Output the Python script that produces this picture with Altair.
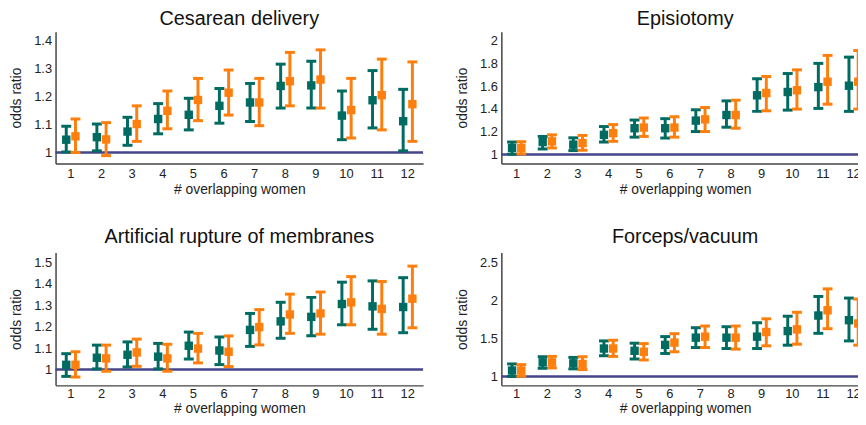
import altair as alt
import pandas as pd

overlap = list(range(1, 13))
series_names = ["Model 1", "Model 2"]
series_colors = ["#006b61", "#ff7f0e"]
ref_color = "#45458c"

# Cesarean delivery
ces_a_or = [1.046, 1.055, 1.075, 1.12, 1.135, 1.167, 1.179, 1.238, 1.24, 1.132, 1.187, 1.112]
ces_a_lo = [1.002, 1.006, 1.026, 1.067, 1.081, 1.105, 1.111, 1.159, 1.159, 1.046, 1.088, 1.006]
ces_a_hi = [1.094, 1.102, 1.126, 1.175, 1.194, 1.229, 1.247, 1.316, 1.326, 1.22, 1.293, 1.226]
ces_b_or = [1.058, 1.047, 1.102, 1.149, 1.188, 1.214, 1.179, 1.255, 1.261, 1.152, 1.205, 1.173]
ces_b_lo = [1.0, 0.989, 1.04, 1.085, 1.114, 1.134, 1.096, 1.167, 1.159, 1.052, 1.081, 1.04]
ces_b_hi = [1.12, 1.107, 1.167, 1.22, 1.265, 1.295, 1.265, 1.358, 1.367, 1.265, 1.334, 1.324]

# Episiotomy
epi_a_or = [1.058, 1.11, 1.087, 1.173, 1.231, 1.231, 1.298, 1.347, 1.52, 1.549, 1.592, 1.604]
epi_a_lo = [1.003, 1.049, 1.035, 1.11, 1.153, 1.145, 1.202, 1.24, 1.379, 1.39, 1.405, 1.379]
epi_a_hi = [1.11, 1.159, 1.147, 1.246, 1.303, 1.315, 1.393, 1.471, 1.665, 1.711, 1.8, 1.855]
epi_b_or = [1.058, 1.116, 1.101, 1.188, 1.237, 1.237, 1.309, 1.347, 1.54, 1.564, 1.639, 1.639]
epi_b_lo = [1.006, 1.058, 1.038, 1.116, 1.159, 1.153, 1.202, 1.231, 1.384, 1.399, 1.442, 1.399]
epi_b_hi = [1.113, 1.173, 1.168, 1.263, 1.321, 1.332, 1.413, 1.477, 1.685, 1.743, 1.87, 1.913]

# Artificial rupture of membranes
arm_a_or = [1.022, 1.055, 1.069, 1.06, 1.111, 1.089, 1.185, 1.225, 1.246, 1.306, 1.295, 1.292]
arm_a_lo = [0.968, 1.003, 1.012, 1.003, 1.049, 1.023, 1.108, 1.146, 1.158, 1.209, 1.188, 1.172]
arm_a_hi = [1.074, 1.114, 1.129, 1.122, 1.175, 1.152, 1.262, 1.314, 1.337, 1.408, 1.414, 1.429]
arm_b_or = [1.022, 1.052, 1.08, 1.052, 1.098, 1.083, 1.198, 1.257, 1.262, 1.314, 1.283, 1.331]
arm_b_lo = [0.965, 0.992, 1.015, 0.992, 1.031, 1.014, 1.115, 1.169, 1.165, 1.209, 1.165, 1.195]
arm_b_hi = [1.083, 1.114, 1.142, 1.118, 1.169, 1.157, 1.28, 1.352, 1.362, 1.434, 1.411, 1.483]

# Forceps/vacuum
fv_a_or = [1.078, 1.186, 1.173, 1.368, 1.338, 1.416, 1.511, 1.511, 1.524, 1.598, 1.802, 1.741]
fv_a_lo = [1.0, 1.108, 1.1, 1.273, 1.23, 1.303, 1.381, 1.368, 1.368, 1.412, 1.568, 1.468]
fv_a_hi = [1.165, 1.26, 1.251, 1.468, 1.438, 1.525, 1.642, 1.655, 1.707, 1.793, 2.053, 2.032]
fv_b_or = [1.078, 1.186, 1.165, 1.368, 1.325, 1.446, 1.524, 1.511, 1.585, 1.62, 1.871, 1.698]
fv_b_lo = [1.004, 1.113, 1.091, 1.264, 1.217, 1.325, 1.381, 1.36, 1.403, 1.425, 1.629, 1.412]
fv_b_hi = [1.156, 1.264, 1.26, 1.477, 1.433, 1.563, 1.664, 1.664, 1.759, 1.845, 2.153, 2.019]

FONT = "Liberation Sans"
W = 371


def build_df(a, b):
    rows = []
    for name, (o, lo, hi) in zip(series_names, [a, b]):
        for n, v, l, h in zip(overlap, o, lo, hi):
            rows.append({"n": n, "series": name, "or": v, "lo": l, "hi": h})
    return pd.DataFrame(rows)


def panel(title, a, b, domain, ticks, height, title_offset, label_pad, xtitle_pad):
    df = build_df(a, b)
    yscale = alt.Scale(domain=domain, nice=False, zero=False)
    yaxis = alt.Axis(values=ticks, format=".1~f", grid=False, ticks=False,
                     labelPadding=4, titlePadding=10)
    base = alt.Chart(df).encode(
        x=alt.X("n:O", title="# overlapping women",
                scale=alt.Scale(paddingInner=0, paddingOuter=0),
                axis=alt.Axis(labelAngle=0, ticks=False, labelPadding=label_pad,
                              titlePadding=xtitle_pad)),
        xOffset=alt.XOffset("series:N", scale=alt.Scale(domain=series_names, paddingOuter=0.66)),
        color=alt.Color("series:N", scale=alt.Scale(domain=series_names, range=series_colors),
                        legend=None),
    )
    ref = alt.Chart(pd.DataFrame({"or": [1.0]})).mark_rule(
        color=ref_color, strokeWidth=2.5
    ).encode(y=alt.Y("or:Q", scale=yscale, axis=yaxis, title="odds ratio"))
    rule = base.mark_rule(strokeWidth=3).encode(
        y=alt.Y("lo:Q", scale=yscale, axis=yaxis, title="odds ratio"), y2="hi:Q")
    cap_lo = base.mark_tick(size=10, thickness=3, opacity=1).encode(
        y=alt.Y("lo:Q", scale=yscale, axis=yaxis, title="odds ratio"))
    cap_hi = base.mark_tick(size=10, thickness=3, opacity=1).encode(
        y=alt.Y("hi:Q", scale=yscale, axis=yaxis, title="odds ratio"))
    pt = base.mark_point(shape="square", filled=True, size=72, opacity=1).encode(
        y=alt.Y("or:Q", scale=yscale, axis=yaxis, title="odds ratio"))
    return alt.layer(ref, rule, cap_lo, cap_hi, pt).properties(
        width=W, height=height,
        title=alt.TitleParams(title, fontSize=20, font=FONT, fontWeight="normal",
                              color="#111111", offset=title_offset),
    )


p1 = panel("Cesarean delivery", (ces_a_or, ces_a_lo, ces_a_hi), (ces_b_or, ces_b_lo, ces_b_hi),
           [0.961, 1.432], [1, 1.1, 1.2, 1.3, 1.4], 133, 3, 4, 2)
p2 = panel("Episiotomy", (epi_a_or, epi_a_lo, epi_a_hi), (epi_b_or, epi_b_lo, epi_b_hi),
           [0.922, 2.078], [1, 1.2, 1.4, 1.6, 1.8, 2], 133, 3, 4, 2)
p3 = panel("Artificial rupture of membranes", (arm_a_or, arm_a_lo, arm_a_hi),
           (arm_b_or, arm_b_lo, arm_b_hi), [0.926, 1.546], [1, 1.1, 1.2, 1.3, 1.4, 1.5],
           134, 6, 2, 1)
p4 = panel("Forceps/vacuum", (fv_a_or, fv_a_lo, fv_a_hi), (fv_b_or, fv_b_lo, fv_b_hi),
           [0.883, 2.63], [1, 1.5, 2, 2.5], 134, 6, 2, 1)

chart = alt.vconcat(
    alt.hconcat(p1, p2, spacing=30),
    alt.hconcat(p3, p4, spacing=30),
    spacing=31,
).properties(
    autosize=alt.AutoSizeParams(type="none"),
    padding={"left": 48, "top": 22, "right": 810, "bottom": 387},
).configure_view(stroke=None).configure_axis(
    labelFont=FONT, titleFont=FONT, labelFontSize=13, titleFontSize=14,
    labelColor="#222222", titleColor="#222222", titleFontWeight="normal",
    domainColor="#444444", domainWidth=1.5,
)

chart.save("out.html", embed_options={"renderer": "svg", "actions": False})
